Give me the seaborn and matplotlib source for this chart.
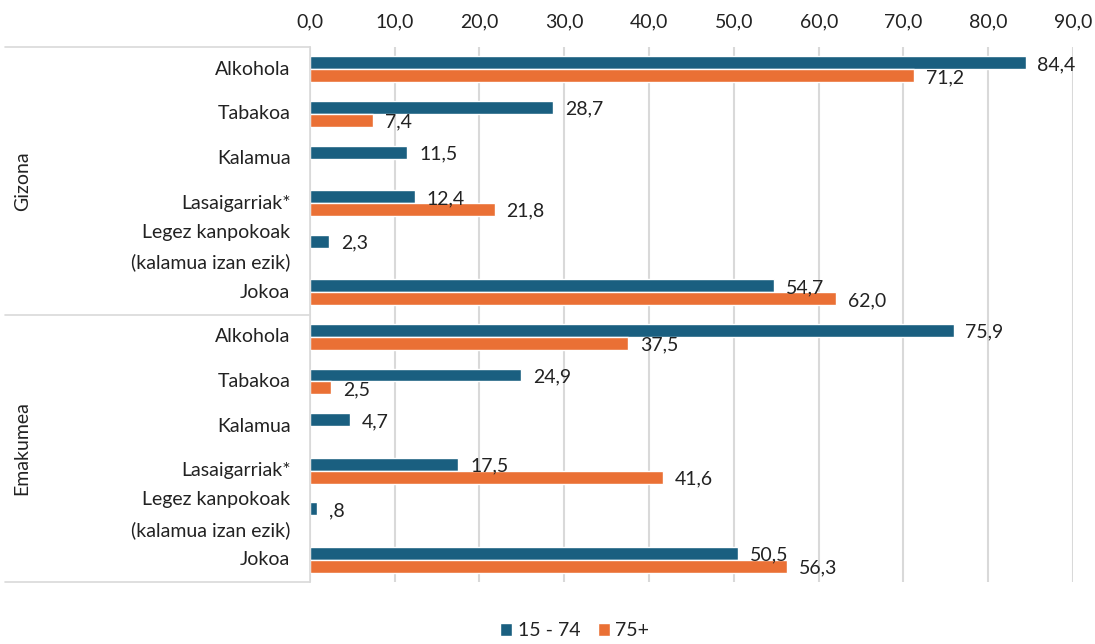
import numpy as np
import pandas as pd
import matplotlib
matplotlib.use("Agg")
import matplotlib.pyplot as plt
import seaborn as sns

# data
groups = ["Gizona", "Emakumea"]
substances = ["Alkohola", "Tabakoa", "Kalamua", "Lasaigarriak*",
              "Legez kanpokoak\n(kalamua izan ezik)", "Jokoa"]
ages = ["15 - 74", "75+"]
gizona_15_74 = [84.4, 28.7, 11.5, 12.4, 2.3, 54.7]
gizona_75 = [71.2, 7.4, np.nan, 21.8, np.nan, 62.0]
emakumea_15_74 = [75.9, 24.9, 4.7, 17.5, 0.8, 50.5]
emakumea_75 = [37.5, 2.5, np.nan, 41.6, np.nan, 56.3]
ticks = [0, 10, 20, 30, 40, 50, 60, 70, 80, 90]

colors = {"15 - 74": "#1A5F80", "75+": "#EA7035"}
txt = "#222222"
fs = 14

# build long table
rows = []
series = {("Gizona", "15 - 74"): gizona_15_74, ("Gizona", "75+"): gizona_75,
          ("Emakumea", "15 - 74"): emakumea_15_74, ("Emakumea", "75+"): emakumea_75}
order = [g + "|" + s for g in groups for s in substances]
for g in groups:
    for a in ages:
        for s, v in zip(substances, series[(g, a)]):
            rows.append({"row": g + "|" + s, "age": a, "value": v})
df = pd.DataFrame(rows).dropna()

sns.set_style("white")
plt.rcParams["font.family"] = ["Lato", "DejaVu Sans"]

def fmt(v):
    t = f"{v:.1f}".replace(".", ",")
    if t.startswith("0,") and v != 0:
        t = t[1:]
    return t

fig = plt.figure(figsize=(10.95, 6.44), dpi=100)
ax = fig.add_axes([0.283, 0.096, 0.697, 0.831])

sns.barplot(data=df, x="value", y="row", hue="age", order=order,
            hue_order=ages, palette=colors, orient="h", width=0.58,
            errorbar=None, ax=ax, legend=True, saturation=1)

ax.set_xlim(0, 90)
ax.set_ylim(11.5, -0.5)
ax.set_xticks(ticks)
ax.set_xticklabels([fmt(t) if t else "0,0" for t in ticks])
ax.xaxis.tick_top()
ax.tick_params(axis="x", length=0, pad=12, labelsize=fs, colors=txt)
ax.tick_params(axis="y", length=0, pad=14, labelsize=fs, colors=txt)
ax.set_yticks(range(len(order)))
ax.set_yticklabels([r.split("|")[1] for r in order], linespacing=1.85)
for lbl in ax.get_yticklabels():
    lbl.set_va("center")
ax.set_xlabel("")
ax.set_ylabel("")
ax.grid(axis="x", color="#D9D9D9", linewidth=1.5)
ax.set_axisbelow(True)
for side in ["top", "right", "bottom"]:
    ax.spines[side].set_visible(False)
ax.spines["left"].set_color("#D9D9D9")
ax.spines["left"].set_linewidth(1.2)

# value labels
for p in ax.patches:
    w = p.get_width()
    if np.isnan(w) or p.get_height() == 0:
        continue
    yc = p.get_y() + p.get_height() / 2
    ax.text(w + 1.4, yc + 0.04, fmt(w), va="center", ha="left",
            fontsize=fs, color=txt)

# group separators and labels
tr = ax.get_yaxis_transform()
for yb in [-0.5, 5.5, 11.5]:
    ax.plot([-0.4, 0], [yb, yb], color="#D9D9D9", linewidth=1.2,
            transform=tr, clip_on=False)
for g, yc in zip(groups, [2.5, 8.5]):
    ax.text(-0.377, yc, g, rotation=90, va="center", ha="center",
            fontsize=fs, color=txt, transform=tr)

handles, labels = ax.get_legend_handles_labels()
ax.legend_.remove()
fig.legend(handles, labels, loc="lower center", bbox_to_anchor=(0.525, -0.02),
           ncol=2, frameon=False, fontsize=fs, handlelength=0.6,
           handleheight=0.6, handletextpad=0.3, columnspacing=0.9,
           labelcolor=txt)

fig.savefig("out.png", dpi=100)
